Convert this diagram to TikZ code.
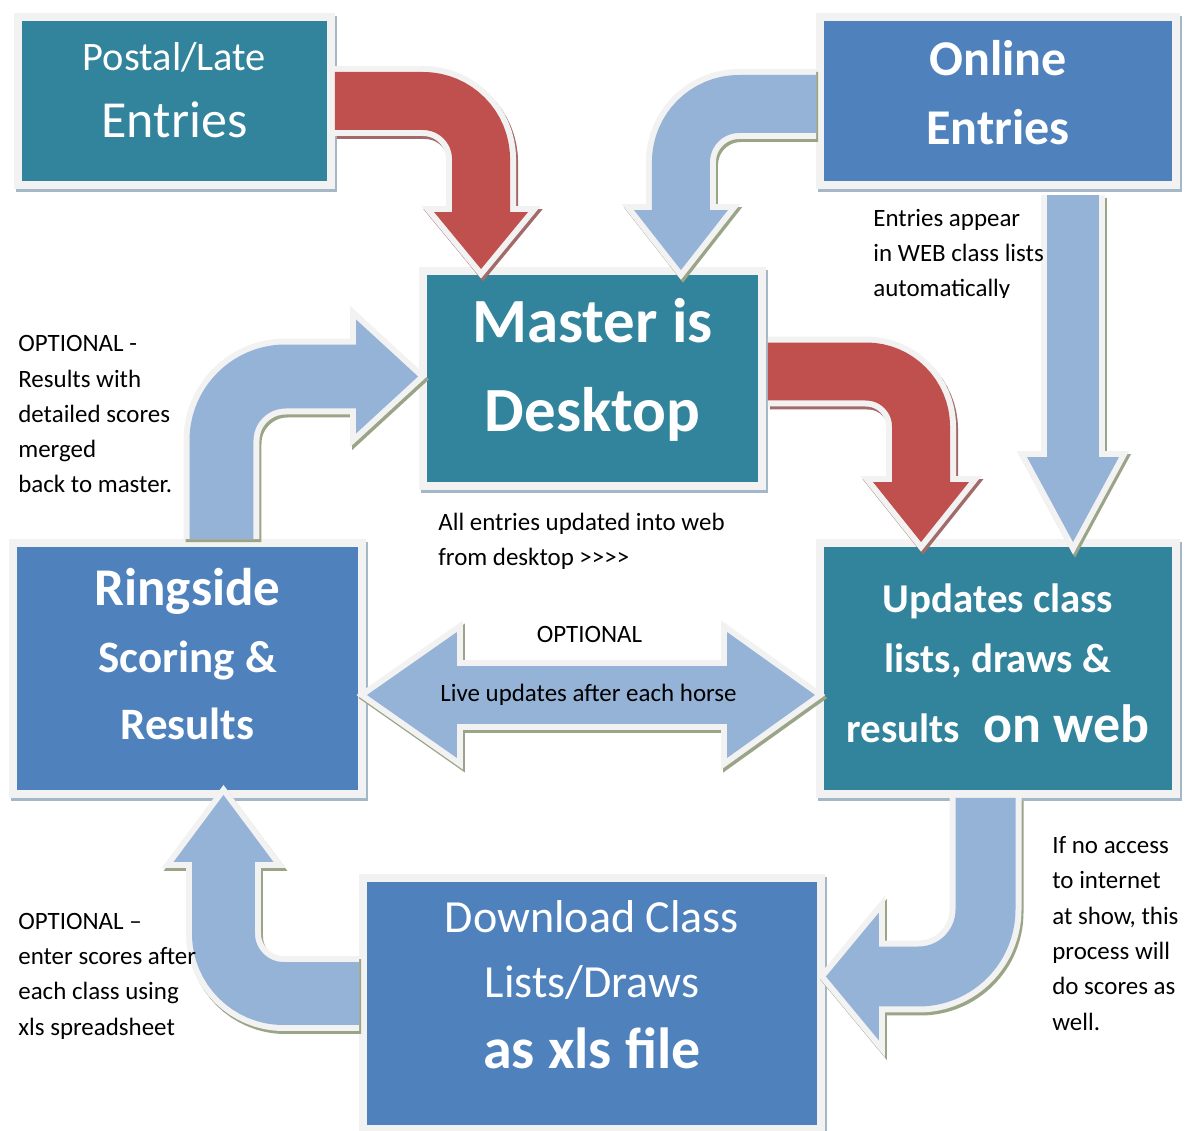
\documentclass[tikz,border=0pt]{standalone}
\usepackage{fontspec}
\setmainfont{Carlito}[Ligatures=TeXOff]
\usetikzlibrary{calc}

\definecolor{tealbox}{HTML}{31849B}
\definecolor{bluebox}{HTML}{4F81BD}
\definecolor{paleblue}{HTML}{95B3D7}
\definecolor{brick}{HTML}{C0504D}
\definecolor{rim}{HTML}{F2F2F2}
\definecolor{paleshade}{HTML}{9AA487}
\definecolor{brickshade}{HTML}{A36A6A}
\definecolor{boxshade}{HTML}{A3B7C6}

\tikzset{
  flowbox/.style={rectangle, inner sep=0pt, outer sep=0pt,
    preaction={draw=boxshade, line width=0.32cm,
               transform canvas={xshift=0.04cm, yshift=-0.06cm}},
    preaction={draw=rim, line width=0.32cm}},
  boxtext/.style={text=white, align=center, anchor=base, inner sep=0pt},
  note/.style={text=black, align=left, anchor=base west, inner sep=0pt,
    font=\fontsize{14.2pt}{20.1pt}\selectfont},
  arrowtext/.style={text=black, anchor=base, inner sep=0pt,
    font=\fontsize{14.2pt}{20.1pt}\selectfont},
}

% Block arrow: shaft path, head path, shaft width, rim width,
% fill colour, shade colour, corner radius
\newcommand\blockarrow[7]{%
  \begin{scope}[transform canvas={xshift=0.04cm, yshift=-0.06cm}]
    \draw[#6, line width=#4, rounded corners=#7] #1;
    \filldraw[#6, line width=0.24cm, line join=miter] #2;
  \end{scope}
  \draw[rim, line width=#4, rounded corners=#7] #1;
  \filldraw[rim, line width=0.24cm, line join=miter] #2;
  \draw[#5, line width=#3, rounded corners=#7] #1;
  \fill[#5] #2;
}

\begin{document}
\begin{tikzpicture}[x=0.02cm, y=-0.02cm]
\fill[white] (0,0) rectangle (1191,1131);
\useasboundingbox (0,0) rectangle (1191,1131);

% ---- boxes ----
\node[flowbox, fill=tealbox, minimum width=6.10cm, minimum height=3.20cm] (post) at (174.5,101) {};
\node[flowbox, fill=bluebox, minimum width=6.96cm, minimum height=3.20cm] (online) at (998,101) {};
\node[flowbox, fill=tealbox, minimum width=6.62cm, minimum height=4.14cm] (master) at (592.5,378.5) {};
\node[flowbox, fill=bluebox, minimum width=6.82cm, minimum height=4.86cm] (ringside) at (187.5,668.5) {};
\node[flowbox, fill=tealbox, minimum width=6.96cm, minimum height=4.86cm] (updates) at (998,668.5) {};
\node[flowbox, fill=bluebox, minimum width=9.00cm, minimum height=4.86cm] (download) at (592,1003.5) {};

% ---- arrows ----
% postal entries into the master
\coordinate (t1) at ($(master.north west)+(54,-6)$);
\blockarrow{($(post.east)+(8,0)$) -| ($(t1)+(0,-57)$)}
  {(t1) -- ++(-47,-57) -- ++(94,0) -- cycle}
  {1.16cm}{1.40cm}{brick}{brickshade}{1.16cm}

% online entries into the master
\coordinate (t2) at ($(master.north east)+(-77,-5)$);
\blockarrow{($(online.west)+(-8,3)$) -| ($(t2)+(0,-60)$)}
  {(t2) -- ++(-47,-60) -- ++(94,0) -- cycle}
  {1.16cm}{1.40cm}{paleblue}{paleshade}{1.16cm}

% online entries straight to the web
\coordinate (t3) at ($(updates.north)+(75,-5)$);
\blockarrow{($(online.south)+(75,14)$) -- ($(t3)+(0,-85)$)}
  {(t3) -- ++(-46,-85) -- ++(92,0) -- cycle}
  {1.04cm}{1.28cm}{paleblue}{paleshade}{0.01cm}

% master to the web
\coordinate (t4) at ($(updates.north west)+(97,-5)$);
\blockarrow{($(master.east)+(10,-7)$) -| ($(t4)+(0,-60)$)}
  {(t4) -- ++(-48,-60) -- ++(96,0) -- cycle}
  {1.16cm}{1.40cm}{brick}{brickshade}{1.1cm}

% ringside results back to the master
\coordinate (t5) at ($(master.west)+(-9,-2)$);
\blockarrow{($(ringside.north)+(34,-8)$) |- ($(t5)+(-62,0)$)}
  {(t5) -- ++(-62,-57) -- ++(0,114) -- cycle}
  {1.28cm}{1.52cm}{paleblue}{paleshade}{1.28cm}

% live updates, both ways
\coordinate (tL) at ($(ringside.east)+(9,26.5)$);
\coordinate (tR) at ($(updates.west)+(-9,26.5)$);
\blockarrow{($(tL)+(90,0)$) -- ($(tR)+(-88,0)$)}
  {(tL) -- ++(90,-63) -- ++(0,126) -- cycle (tR) -- ++(-88,-63) -- ++(0,126) -- cycle}
  {1.16cm}{1.40cm}{paleblue}{paleshade}{0.01cm}

% web to the downloaded file
\coordinate (t7) at ($(download.east)+(9,-27)$);
\blockarrow{($(updates.south)+(-12.5,8)$) |- ($(t7)+(53,0)$)}
  {(t7) -- ++(53,-64) -- ++(0,128) -- cycle}
  {1.2cm}{1.44cm}{paleblue}{paleshade}{1.34cm}

% downloaded file to ringside
\coordinate (t8) at ($(ringside.south)+(36,5)$);
\blockarrow{($(download.west)+(-8,-10)$) -| ($(t8)+(0,67)$)}
  {(t8) -- ++(-50,67) -- ++(100,0) -- cycle}
  {1.26cm}{1.50cm}{paleblue}{paleshade}{1.2cm}

% ---- box texts (anchored at the baseline of the last line) ----
\node[boxtext, font=\fontsize{23pt}{38.7pt}\selectfont] (postT) at (174.5,138)
  {Postal/Late\\{\fontsize{29.6pt}{38.7pt}\selectfont Entries}};
\node[boxtext, font=\bfseries\fontsize{28.5pt}{39.3pt}\selectfont] (onlineT) at (998,145)
  {Online\\Entries};
\node[boxtext, font=\bfseries\fontsize{35.8pt}{51.2pt}\selectfont] (masterT) at (592.5,432)
  {Master is\\Desktop};
\node[boxtext, font=\bfseries\fontsize{25.6pt}{38.4pt}\selectfont] (ringT) at (187.5,740)
  {{\fontsize{30.2pt}{38.4pt}\selectfont Ringside}\\Scoring \&\\Results};
\node[boxtext, font=\bfseries\fontsize{23.3pt}{33.6pt}\selectfont] (updT) at (998,743)
  {Updates class\\lists, draws \&\\[6.8pt]results\hspace{0.28cm} {\fontsize{30.7pt}{33.6pt}\selectfont on web}};
\node[boxtext, font=\fontsize{26.2pt}{37pt}\selectfont] (dlT) at (592,1068)
  {Download Class\\Lists/Draws\\[3.4pt]{\bfseries\fontsize{33pt}{37pt}\selectfont as xls file}};

% ---- notes (anchored at the baseline of the last line) ----
\node[note] (noteMerge) at (18,493)
  {OPTIONAL -\\Results with\\detailed scores\\merged\\back to master.};
% the last line of this note is cut at its baseline
\begin{scope}
  \clip (860,195) rectangle (1070,297.5);
  \node[note] (noteAuto) at (873,297)
    {Entries appear\\in WEB class lists\\automatically};
\end{scope}
\node[note] (noteAll) at (438,566)
  {All entries updated into web\\from desktop >>>>};
\node[note] (noteXls) at (18,1035)
  {OPTIONAL –\\enter scores after\\each class using\\xls spreadsheet};
\node[note] (noteNoNet) at (1052,1030)
  {If no access\\to internet\\at show, this\\process will\\do scores as\\well.};
\node[arrowtext] (optTop) at (589.5,643) {OPTIONAL};
\node[arrowtext] (liveT) at (588.5,702) {Live updates after each horse};
\end{tikzpicture}
\end{document}
